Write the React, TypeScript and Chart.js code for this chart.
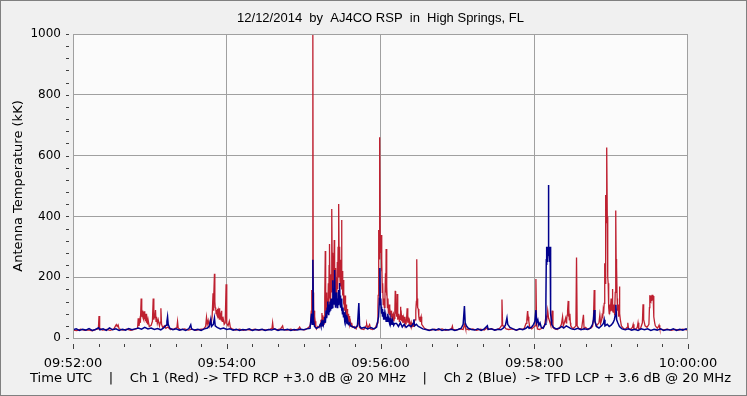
import React, { useEffect, useRef } from 'react';
import { Chart, registerables } from 'chart.js';

Chart.register(...registerables);

const TITLE = '12/12/2014  by  AJ4CO RSP  in  High Springs, FL';
const Y_TITLE = 'Antenna Temperature (kK)';
const X_TITLE = 'Time UTC    |    Ch 1 (Red) -> TFD RCP +3.0 dB @ 20 MHz    |    Ch 2 (Blue)  -> TFD LCP + 3.6 dB @ 20 MHz';
const START_SEC = 9 * 3600 + 52 * 60; // 09:52:00
const X_MAX = 480; // seconds -> 10:00:00
const X_MINOR = 20;
const X_MAJOR = 120;
const Y_MAX = 1000;
const Y_MINOR = 40;
const Y_MAJOR = 200;

// Ch 1 (Red): [seconds after 09:52:00, kK]
const RED: [number, number][] = [
  [0,26],[3,24],[6,29],[9,25],[12,27],[15,24],[18,28],[19.8,30],[20.3,72],[20.8,32],[23,26],[26,28],[29,25],[32,30],[33.2,40],[33.8,44],[34.5,38],[35.2,43],[36,30],[39,26],[42,29],[45,25],[48,28],
  [50.4,32],[50.9,65],[51.5,40],[52.2,60],[52.6,50],[53.2,130],[53.5,70],[53.8,95],[54.1,70],[54.4,90],[54.7,65],[55,85],[55.3,60],[55.6,88],[56,62],[56.3,80],[56.7,55],[57,80],[57.4,50],[57.8,60],[58.2,45],[58.6,60],[59.5,38],[61,42],[62,55],[62.6,130],[63.1,60],[63.5,80],[63.8,65],[64.4,92],[64.8,55],[65.2,70],[65.8,48],[66.5,60],[67.5,40],[68.2,52],[68.6,98],[69.1,45],[70,35],[71.5,40],[72.5,32],[74,36],[76,28],[79,30],[81.1,34],[81.6,54],[82.1,33],[84,27],[87,30],[90,26],[93,29],[96,25],[99,28],[102,30],
  [103.5,38],[104.2,68],[104.8,45],[105.5,58],[106.3,40],[107,55],[107.8,48],[108.6,70],[109.3,147],[109.6,90],[110,130],[110.4,211],[110.7,120],[111,100],[111.4,98],[111.7,80],[112,92],[112.4,75],[112.7,96],[113.1,70],[113.4,85],[113.7,65],[114,98],[114.3,70],[114.6,60],[115,80],[115.3,75],[115.6,60],[115.9,90],[116.2,60],[116.5,55],[117,70],[117.3,62],[118,45],[118.8,50],[119.5,177],[120,48],[121,40],[122,55],[122.8,35],[124,30],
  [127,26],[130,29],[133,25],[136,28],[139,26],[142,29],[145,25],[148,28],[151,26],[154,29],[155.3,32],[155.8,50],[156.3,30],[159,27],[162,30],[163.6,40],[164.2,28],[167,26],[170,29],[173,25],[176,30],[176.9,36],[178,28],[181,27],[183,32],[184.7,38],[185.3,45],
  [186,90],[186.2,158],[186.5,70],[186.8,120],[187.2,1000],[187.5,150],[187.8,70],[188.2,90],[188.6,45],[189,55],[189.5,35],[190,30],[191,38],[192,34],[193,45],[193.5,60],[194,40],[194.3,82],[194.6,50],[195,75],[195.4,45],[195.8,70],[196.2,50],[196.5,130],[196.9,286],[197.2,90],[197.5,150],[197.8,70],[198.1,110],[198.4,80],[198.7,130],[199,95],[199.3,180],[199.6,100],[199.9,240],[200.1,130],[200.3,309],[200.6,150],[200.9,200],[201.2,120],[201.5,210],[201.8,150],[202.1,424],[202.4,200],[202.7,280],[203,160],[203.3,230],[203.6,150],[203.9,322],[204.2,170],[204.5,230],[204.8,140],[205.1,190],[205.4,130],[205.7,200],[206,140],[206.3,250],[206.6,160],[206.9,300],[207.2,200],[207.5,441],[207.8,220],[208.1,300],[208.4,190],[208.7,257],[209,170],[209.3,240],[209.6,388],[209.9,160],[210.2,220],[210.5,140],[210.8,191],[211.1,110],[211.5,150],[211.9,90],[212.3,140],[212.7,80],[213.1,110],[213.5,70],[213.9,95],[214.3,60],[214.7,80],[215.1,50],[215.5,72],[215.9,45],[216.5,55],[217,40],[217.5,50],[218,35],
  [219.7,38],[221,30],[222.5,48],[223.1,60],[223.6,35],[225,30],[227,28],[228.7,40],[229.2,46],[230,32],[231.5,44],[232.3,30],[234,28],[236,34],
  [237.5,50],[238,100],[238.2,140],[238.5,300],[238.7,355],[238.9,260],[239.2,320],[239.5,660],[239.8,320],[240.1,280],[240.5,339],[240.8,220],[241.1,260],[241.4,150],[241.7,180],[242.1,110],[242.5,130],[243,100],[243.5,140],[243.9,213],[244.2,150],[244.4,293],[244.7,140],[245,170],[245.4,100],[245.8,130],[246.2,80],[246.8,110],[247.2,75],[247.5,90],[248.2,70],[248.6,90],[249,60],[249.5,75],[250,80],[250.4,55],[250.8,65],[251.2,90],[251.5,155],[251.8,80],[252.2,110],[252.6,70],[253,145],[253.3,80],[253.6,60],[254,75],[254.3,80],[254.7,55],[255,65],[255.3,70],[255.6,103],[255.9,60],[256.3,75],[256.6,55],[257,75],[257.4,50],[257.9,65],[258.3,50],[258.7,70],[259.1,48],[259.5,55],[259.9,45],[260.3,60],[260.8,98],[261.3,50],[261.7,65],[262,60],[262.5,45],[263,50],[263.5,40],[264,50],[264.5,38],[265,45],[265.5,38],[266,45],[266.5,55],[267,60],[267.4,80],[267.7,90],[268,120],[268.3,259],[268.6,130],[268.8,110],[269.2,100],[269.5,95],[269.9,70],[270.3,60],[270.7,70],[271,55],[271.4,65],[271.7,70],[272,50],[272.3,45],[273,40],[274.3,32],
  [276,28],[279,25],[282,29],[285,26],[288,30],[291,25],[294,28],[295.6,32],[296.1,39],[296.6,28],[299,26],[302,30],[304.5,28],[305.5,45],[306,40],[306.5,30],[309,27],[312,30],[315,25],[318,29],[321,26],[323.4,34],[324,28],[327,30],[330,26],[333,32],[334.3,40],[334.8,127],[335.3,42],[336.5,38],[338,30],[340,28],[343,30],[346,26],[349,29],[352,30],[353.6,48],[354.2,60],[354.5,75],[354.8,89],[355.1,65],[355.3,70],[355.6,60],[355.9,55],[356.5,35],[358,30],[360.6,40],[361.3,194],[361.8,50],[362.5,30],[364,28],[366,32],[368,40],[369.1,70],[369.8,60],[370.5,90],[371.2,65],[372,55],[373,40],[374,90],[374.6,35],[376,30],[378,28],
  [380,35],[381.2,45],[382.1,70],[382.7,40],[383.5,50],[384.5,65],[385,50],[385.3,60],[385.7,75],[386,90],[386.5,122],[386.8,70],[387.1,95],[387.4,60],[387.8,80],[388.2,50],[388.5,40],[390,30],[391.5,35],[392.5,40],[393,265],[393.5,40],[395,30],[397,32],[398.4,76],[398.9,30],[400,35],[402,28],[404,32],[405.5,38],[406.2,60],[406.8,158],[407.3,55],[408.5,40],[409.5,45],[410.5,50],[411.2,76],[411.8,48],[412.6,60],[413,75],[413.5,70],[413.8,90],[414,100],[414.3,80],[414.6,114],[414.9,200],[415.1,246],[415.4,180],[415.6,350],[415.9,470],[416.2,380],[416.4,560],[416.7,627],[417,400],[417.2,311],[417.5,200],[417.7,180],[418,120],[418.2,100],[418.5,80],[418.7,110],[419,85],[419.3,90],[419.7,110],[420,130],[420.3,90],[420.5,100],[420.8,120],[421,161],[421.3,90],[421.6,85],[422,110],[422.3,100],[422.6,75],[422.9,80],[423.2,150],[423.5,250],[423.7,419],[423.9,260],[424.1,200],[424.4,235],[424.7,130],[425,90],[425.4,110],[425.8,70],[426.2,100],[426.5,169],[426.8,80],[427.2,60],[428,40],[429.5,32],
  [431,28],[432.4,35],[433,50],[433.6,30],[435,28],[436.6,35],[437.2,45],[437.8,30],[439,28],[440.4,35],[441,50],[441.6,30],[443,32],[444.4,50],[444.9,111],[445.4,60],[446.5,40],[448,35],[449.5,45],[449.9,100],[450.2,141],[450.5,120],[450.8,138],[451.1,118],[451.4,140],[451.7,122],[452,142],[452.3,125],[452.6,140],[452.8,138],[453.2,90],[453.4,70],[454,50],[454.5,40],[456,32],[457,38],[457.4,42],[458,30],[461,27],[464,29],[467,25],[470,28],[473,26],[476,29],[480,26]
];

// Ch 2 (Blue): [seconds after 09:52:00, kK]
const BLUE: [number, number][] = [
  [0,27],[2.5,30],[5,25],[7.5,29],[10,26],[12.5,31],[15,25],[17.5,28],[20,34],[21,27],[23.5,30],[26,25],[28.5,33],[31,27],[33.5,30],[36,25],[38.5,29],[41,26],[43.5,31],[46,27],[48.5,30],[51,33],[53.5,29],[56,35],[58.5,30],[61,33],[63.5,28],[66,31],[68.5,27],[71,34],[72.7,42],[73.3,55],[73.8,70],[74.3,45],[75.5,32],[78,27],[80.5,30],[83,26],[85.5,29],[88,25],[90.5,31],[91.9,43],[92.5,30],[95,26],[97.5,29],[100,25],[102.5,30],[105,33],[106.5,40],[107.5,61],[108.1,38],[109.5,45],[110.4,66],[111,40],[112.5,35],[115,30],[117.5,33],[120,28],[122.5,30],
  [125,26],[127.5,29],[130,25],[132.5,28],[135,26],[137.5,30],[140,25],[142.5,28],[145,26],[147.5,29],[150,25],[152.5,28],[155,26],[157.5,30],[160,25],[162.5,28],[165,26],[167.5,29],[170,25],[172.5,28],[175,26],[177.5,29],[180,27],[182.5,30],[185,32],
  [186.2,80],[186.7,45],[187.2,257],[187.7,60],[188.5,38],[190,32],[192,36],[193,45],[193.5,38],[194,50],[194.5,40],[195,60],[195.5,45],[196,55],[196.5,70],[197,50],[197.5,90],[198,65],[198.4,100],[198.7,120],[199,80],[199.3,110],[199.6,75],[200,105],[200.3,85],[200.6,120],[200.9,90],[201.2,115],[201.5,130],[201.8,95],[202.1,120],[202.4,100],[202.8,190],[203.1,120],[203.4,150],[203.7,110],[204,160],[204.2,224],[204.5,120],[204.8,150],[205.1,100],[205.4,140],[205.7,110],[206,150],[206.3,100],[206.6,130],[206.9,110],[207.2,140],[207.5,158],[207.8,130],[208.1,181],[208.4,120],[208.7,140],[209,100],[209.3,130],[209.6,90],[209.9,115],[210.3,80],[210.7,100],[211.1,70],[211.5,85],[212,60],[212.5,75],[213,55],[213.5,65],[214,48],[214.5,55],[215,45],[216,50],[216.5,40],[218,38],[220,33],[222,40],[223.1,115],[223.7,40],[225,32],[227.5,35],[230,30],[232.5,34],[235,30],[237,36],
  [238.5,70],[239.2,130],[239.5,230],[239.9,110],[240.2,130],[240.5,103],[240.9,80],[241.2,95],[241.6,70],[242,85],[242.5,60],[243,80],[243.5,60],[244,75],[244.4,55],[244.8,70],[245.2,55],[245.7,80],[246.1,55],[246.5,60],[247,50],[247.5,65],[248,48],[248.5,55],[249,45],[249.5,55],[250.3,42],[251,48],[252.5,48],[254,38],[255.5,50],[257,36],[258.5,45],[260,35],[262,42],[264,38],[265.5,48],[266,61],[266.6,40],[268,45],[269.5,38],[271,35],[273,30],
  [275.5,28],[278,25],[280.5,29],[283,26],[285.5,30],[288,25],[290.5,28],[293,26],[295.5,29],[298,25],[300.5,28],[303,32],[304.5,45],[305.5,105],[306.1,50],[307,40],[308.5,32],[311,28],[313.5,26],[316,30],[318.5,25],[321,30],[323.4,40],[324,28],[326.5,30],[329,26],[331.5,29],[334,27],[336,33],[337.5,42],[338.7,66],[339.3,45],[341,35],[343.5,30],[346,26],[348.5,30],[351,27],[353.5,32],[355,38],[356,32],[358,36],[359.5,45],[360.5,55],[361.3,92],[361.9,50],[362.8,60],[363.6,42],[364.5,50],[365.5,35],[367,32],
  [368.4,45],[369.1,125],[369.4,260],[369.6,300],[369.8,240],[370,290],[370.2,250],[370.4,300],[370.6,260],[370.8,295],[371,270],[371.2,503],[371.4,280],[371.6,300],[371.8,250],[372,295],[372.2,260],[372.4,300],[372.6,240],[372.8,180],[372.9,80],[373.3,60],[373.6,45],[375,35],[377,30],[379.5,32],[381.5,38],[383,33],[385,40],[387,35],[389,30],[391.5,28],[394,32],[396.5,27],[399,30],[401.5,28],[404,33],[405.5,45],[406.2,60],[406.8,92],[407.4,55],[408.5,38],[410.5,33],[412.5,40],[414,48],[414.6,60],[415.2,40],[417,45],[418.5,38],[420,42],[421.5,50],[422.5,60],[423.2,75],[423.7,109],[424.3,60],[425.2,50],[426.5,38],[428.5,30],
  [431,27],[433.5,30],[436,26],[438.5,29],[441,25],[443.5,30],[446,27],[448.5,30],[451,25],[453.5,29],[456,26],[458.5,30],[461,25],[463.5,28],[466,26],[468.5,30],[471,25],[473.5,29],[476,26],[478.5,30],[480,27]
];

const pad2 = (n: number) => String(n).padStart(2, '0');
const fmtTime = (v: number) => {
  const t = START_SEC + v;
  const h = Math.floor(t / 3600);
  const m = Math.floor((t % 3600) / 60);
  const s = Math.round(t % 60);
  return `${pad2(h)}:${pad2(m)}:${pad2(s)}`;
};

const GRID = '#A0A0A0';
const FONT = 'DejaVu Sans';

const framePlugin = {
  id: 'frame',
  beforeDraw(chart: any) {
    const { ctx, width, height, chartArea: a } = chart;
    ctx.save();
    ctx.fillStyle = '#F0F0F0';
    ctx.fillRect(0, 0, width, height);
    ctx.fillStyle = '#FBFBFB';
    ctx.fillRect(a.left, a.top, a.right - a.left, a.bottom - a.top);
    ctx.restore();
  },
  afterDraw(chart: any) {
    const { ctx, width, height, chartArea: a, scales } = chart;
    ctx.save();
    ctx.lineWidth = 1;
    ctx.strokeStyle = GRID;
    ctx.strokeRect(Math.round(a.left) + 0.5, Math.round(a.top) + 0.5, Math.round(a.right - a.left) - 1, Math.round(a.bottom - a.top));
    ctx.strokeStyle = '#404040';
    ctx.beginPath();
    for (let v = 0; v <= X_MAX; v += X_MINOR) {
      const x = Math.round(scales.x.getPixelForValue(v)) + 0.5;
      const major = v % X_MAJOR === 0;
      ctx.moveTo(x, a.bottom + 6);
      ctx.lineTo(x, a.bottom + (major ? 11 : 9));
    }
    for (let v = 0; v <= Y_MAX; v += Y_MINOR) {
      const y = Math.round(scales.y.getPixelForValue(v)) + 0.5;
      ctx.moveTo(a.left - 7, y);
      ctx.lineTo(a.left - 4, y);
    }
    ctx.stroke();
    // bottom caption (axis title), centred under the plot area
    ctx.fillStyle = '#000';
    ctx.font = `13.1px "${FONT}"`;
    ctx.textAlign = 'center';
    ctx.textBaseline = 'middle';
    ctx.fillText(X_TITLE, (a.left + a.right) / 2, 379);
    ctx.strokeStyle = '#808080';
    ctx.strokeRect(0.5, 0.5, width - 1, height - 1);
    ctx.restore();
  },
};

export default function App() {
  const ref = useRef<HTMLCanvasElement>(null);
  useEffect(() => {
    document.body.style.margin = '0';
    const chart = new Chart(ref.current as HTMLCanvasElement, {
      type: 'line',
      data: {
        datasets: [
          {
            label: 'Ch 2 (Blue)',
            data: BLUE.map(([x, y]) => ({ x, y })),
            borderColor: '#00008C',
            borderWidth: 1.5,
            pointRadius: 0,
            tension: 0,
            fill: false,
          },
          {
            label: 'Ch 1 (Red)',
            data: RED.map(([x, y]) => ({ x, y })),
            borderColor: '#BE2030',
            borderWidth: 1.3,
            pointRadius: 0,
            tension: 0,
            fill: false,
          },
        ],
      },
      options: {
        animation: false,
        responsive: false,
        events: [],
        layout: { padding: { left: 0, right: 59, top: 0, bottom: 0 } },
        plugins: {
          legend: { display: false },
          tooltip: { enabled: false },
          title: {
            display: true,
            text: TITLE,
            fullSize: false,
            color: '#000',
            font: { family: 'Liberation Sans', size: 13, weight: 'normal' },
            padding: { top: 10.2, bottom: 8.2 },
          },
        },
        scales: {
          x: {
            type: 'linear',
            min: 0,
            max: X_MAX,
            afterFit: (s: any) => { s.height = 58; },
            ticks: {
              stepSize: X_MINOR,
              autoSkip: false,
              maxRotation: 0,
              padding: 18,
              color: '#000',
              font: { family: FONT, size: 13 },
              callback: (v: any) => (Number(v) % X_MAJOR === 0 ? fmtTime(Number(v)) : ''),
            },
            grid: {
              drawTicks: false,
              color: (c: any) => {
                const v = c.tick ? c.tick.value : 0;
                return v % X_MAJOR === 0 && v > 0 && v < X_MAX ? GRID : 'rgba(0,0,0,0)';
              },
            },
            border: { display: false },
            title: { display: false },
          },
          y: {
            min: 0,
            max: Y_MAX,
            afterFit: (s: any) => { s.width = 73; },
            ticks: {
              stepSize: Y_MINOR,
              autoSkip: false,
              padding: 12,
              color: '#000',
              font: { family: FONT, size: 12 },
              callback: (v: any) => (Number(v) % Y_MAJOR === 0 ? String(v) : ''),
            },
            grid: {
              drawTicks: false,
              color: (c: any) => {
                const v = c.tick ? c.tick.value : 0;
                return v % Y_MAJOR === 0 && v > 0 && v < Y_MAX ? GRID : 'rgba(0,0,0,0)';
              },
            },
            border: { display: false },
            title: {
              display: true,
              text: Y_TITLE,
              color: '#000',
              font: { family: FONT, size: 13 },
              padding: { top: 11, bottom: 0 },
            },
          },
        },
      },
      plugins: [framePlugin],
    } as any);
    return () => chart.destroy();
  }, []);
  return (
    <div style={{ width: 747, height: 396 }}>
      <canvas ref={ref} width={747} height={396} style={{ display: 'block' }} />
    </div>
  );
}
